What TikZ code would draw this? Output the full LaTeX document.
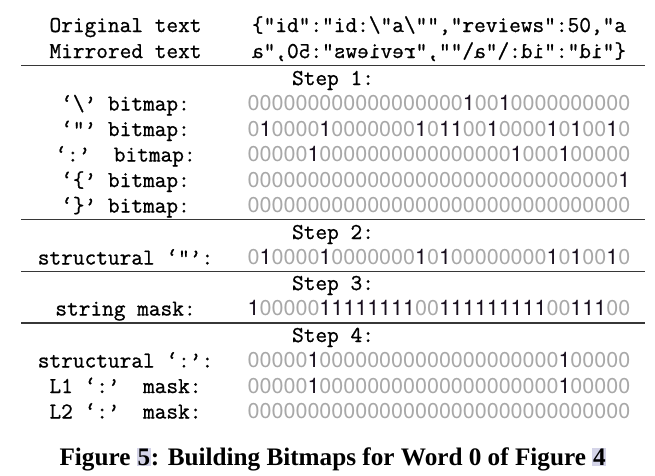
\documentclass[tikz,border=0pt]{standalone}
\usepackage{fontspec}
\usepackage{graphicx}
\setmainfont{Liberation Serif}
\newfontfamily\digfont{TeX Gyre Heros}
\newfontfamily\ttdark{Latin Modern Mono}[FakeBold=0.9]
\definecolor{zeroc}{RGB}{168,168,168}
\definecolor{onec}{RGB}{25,15,30}
\definecolor{rulec}{RGB}{55,55,55}
\definecolor{hlc}{RGB}{212,212,232}
\def\bitsloop#1{\ifx#1\relax\else\ifx#11\textcolor{onec}{1}\else\textcolor{zeroc}{0}\fi\expandafter\bitsloop\fi}
\newcommand\bitrow[1]{\bitsloop#1\relax}
\newcommand\hlnum[1]{{\setlength{\fboxsep}{0.8pt}\colorbox{hlc}{#1}}}
\tikzset{
  lab/.style={anchor=base, inner sep=0pt, font=\fontsize{22.7}{27}\ttdark},
  steplab/.style={anchor=base, inner sep=0pt, font=\fontsize{22.7}{27}\ttdark},
  bitsnode/.style={anchor=base, inner sep=0pt, font=\fontsize{21.5}{26}\digfont},
  txt/.style={anchor=base, inner sep=0pt, font=\fontsize{22.7}{27}\ttdark},
  hrule/.style={draw=rulec, line width=1.2pt},
}
\begin{document}
\begin{tikzpicture}[x=1pt,y=-1pt]
\useasboundingbox (0,0) rectangle (655,475);
% header rows
\node[lab] (l0) at (125.5,32) {Original text};
\node[txt] (t0) at (439,32) {\{"id":"id:\textbackslash"a\textbackslash"","reviews":50,"a};
\node[lab] (l1) at (125.5,58) {Mirrored text};
\node[txt] (t1) at (439,58) {\reflectbox{\{"id":"id:\textbackslash"a\textbackslash"","reviews":50,"a}};
\draw[hrule] (21,65.7) -- (645,65.7);
% step 1
\node[steplab] (s1) at (333,85) {Step 1:};
\node[lab] (a1) at (125.5,110.5) {‘\textbackslash’ bitmap:};
\node[bitsnode] (b1) at (439,110.5) {\bitrow{000000000000000000 1001 0000000000}};
\node[lab] (a2) at (125.5,136) {‘"’ bitmap:};
\node[bitsnode] (b2) at (439,136) {\bitrow{0100001 0000000 1011 001 0000 101 0010}};
\node[lab] (a3) at (125.5,161.5) {‘:’~~bitmap:};
\node[bitsnode] (b3) at (439,161.5) {\bitrow{00000 1 0000000000000000 1 000 1 00000}};
\node[lab] (a4) at (125.5,187) {‘\{’ bitmap:};
\node[bitsnode] (b4) at (439,187) {\bitrow{0000000000000000000000000000000 1}};
\node[lab] (a5) at (125.5,212.5) {‘\}’ bitmap:};
\node[bitsnode] (b5) at (439,212.5) {\bitrow{00000000000000000000000000000000}};
\draw[hrule] (21,219.5) -- (645,219.5);
% step 2
\node[steplab] (s2) at (333,239) {Step 2:};
\node[lab] (a6) at (125.5,264.5) {structural ‘"’:};
\node[bitsnode] (b6) at (439,264.5) {\bitrow{0100001 0000000 1 0 1 00000000 1 0 1 00 1 0}};
\draw[hrule] (21,271.7) -- (645,271.7);
% step 3
\node[steplab] (s3) at (333,290) {Step 3:};
\node[lab] (a7) at (125.5,315.5) {string mask:};
\node[bitsnode] (b7) at (439,315.5) {\bitrow{1 00000 11111111 00 111111111 00 111 00}};
\draw[hrule] (21,323) -- (645,323);
% step 4
\node[steplab] (s4) at (333,342) {Step 4:};
\node[lab] (a8) at (125.5,367.5) {structural ‘:’:};
\node[bitsnode] (b8) at (439,367.5) {\bitrow{00000 1 00000000000000000000 1 00000}};
\node[lab] (a9) at (125.5,393) {L1 ‘:’~~mask:};
\node[bitsnode] (b9) at (439,393) {\bitrow{00000 1 00000000000000000000 1 00000}};
\node[lab] (a10) at (125.5,418.5) {L2 ‘:’~~mask:};
\node[bitsnode] (b10) at (439,418.5) {\bitrow{00000000000000000000000000000000}};
% caption
\node[anchor=base, inner sep=0pt, font=\fontsize{25.2}{30}\selectfont\bfseries] (cap) at (333,465)
  {Figure \hlnum{5}: Building Bitmaps for Word 0 of Figure \hlnum{4}};
\end{tikzpicture}
\end{document}
